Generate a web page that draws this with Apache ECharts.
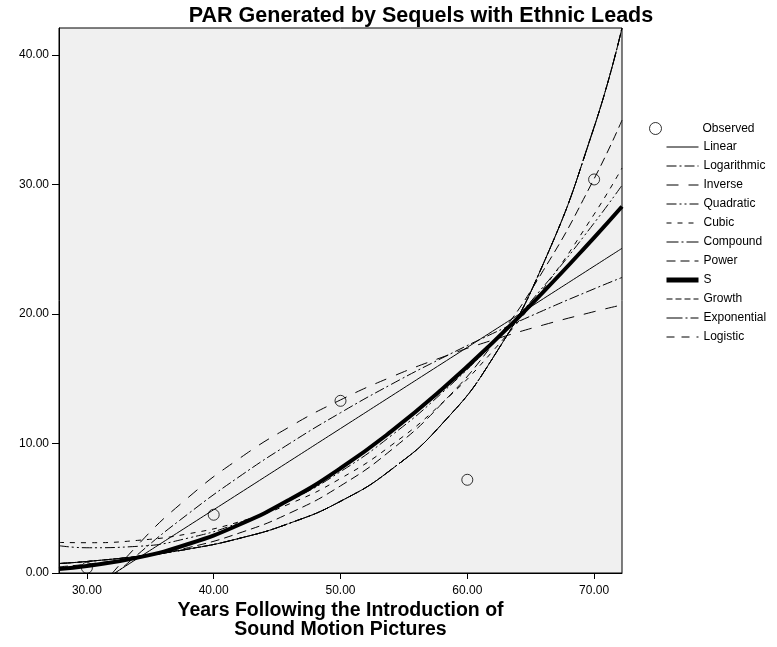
<!DOCTYPE html>
<html>
<head>
<meta charset="utf-8">
<script src="https://cdn.jsdelivr.net/npm/echarts@6/dist/echarts.min.js"></script>
<style>
html,body{margin:0;padding:0;background:#fff;}
#c{width:777px;height:647px;}
</style>
</head>
<body>
<div id="c"></div>
<script>
// Observed points
const obsX = [30, 40, 50, 60, 70];
const obsY = [0.4, 4.5, 13.3, 7.2, 30.4];
// x positions at which the fitted curves were read
const xs = [27.8, 30, 34, 38, 42, 46, 50, 54, 58, 62, 66, 70, 72.2];
const linear      = [-2.76, -1.38, 1.13, 3.64, 6.14, 8.65, 11.16, 13.67, 16.18, 18.68, 21.19, 23.70, 25.08];
const logarithmic = [-4.31, -2.14, 1.42, 4.58, 7.43, 10.01, 12.38, 14.57, 16.60, 18.50, 20.28, 21.95, 22.83];
const inverse     = [-5.68, -2.53, 2.15, 5.84, 8.83, 11.30, 13.37, 15.14, 16.66, 17.99, 19.16, 20.19, 20.71];
const quadratic   = [2.11, 1.95, 2.06, 2.70, 3.88, 5.59, 7.83, 10.61, 13.91, 17.75, 22.12, 27.03, 29.95];
const cubic       = [2.36, 2.34, 2.52, 3.03, 3.95, 5.35, 7.30, 9.86, 13.12, 17.13, 21.97, 27.71, 31.28];
const compound    = [0.73, 0.89, 1.29, 1.85, 2.67, 3.85, 5.54, 7.99, 11.51, 16.59, 23.90, 34.44, 42.10];
const power       = [0.48, 0.68, 1.19, 1.96, 3.08, 4.63, 6.73, 9.50, 13.09, 17.66, 23.38, 30.45, 34.98];
const sCurve      = [0.31, 0.54, 1.19, 2.24, 3.73, 5.68, 8.09, 10.94, 14.19, 17.80, 21.72, 25.91, 28.31];
const growth      = [0.73, 0.89, 1.29, 1.85, 2.67, 3.85, 5.54, 7.99, 11.51, 16.59, 23.90, 34.44, 42.10];
const exponential = [0.73, 0.89, 1.29, 1.85, 2.67, 3.85, 5.54, 7.99, 11.51, 16.59, 23.90, 34.44, 42.10];
const logistic    = [0.73, 0.89, 1.29, 1.85, 2.67, 3.85, 5.54, 7.99, 11.51, 16.59, 23.90, 34.44, 42.10];
const xTicks = [30, 40, 50, 60, 70];
const yTicks = [0, 10, 20, 30, 40];

const FONT = "'Liberation Sans', Arial, sans-serif";
const pair = (arr) => xs.map((x, i) => [x, arr[i]]);

const curves = [
  {name: 'Linear', data: linear, type: 'solid', width: 1},
  {name: 'Logarithmic', data: logarithmic, type: [10, 3, 2, 3], width: 1},
  {name: 'Inverse', data: inverse, type: [12, 10], width: 1},
  {name: 'Quadratic', data: quadratic, type: [10, 3, 2, 3, 2, 3], width: 1},
  {name: 'Cubic', data: cubic, type: [5, 6], width: 1},
  {name: 'Compound', data: compound, type: [12, 3, 2, 3], width: 1},
  {name: 'Power', data: power, type: [9, 5], width: 1},
  {name: 'S', data: sCurve, type: 'solid', width: 4},
  {name: 'Growth', data: growth, type: [6, 3], width: 1},
  {name: 'Exponential', data: exponential, type: [16, 3, 2, 3], width: 1},
  {name: 'Logistic', data: logistic, type: [8, 7], width: 1}
];

const series = curves.map(c => ({
  name: c.name,
  type: 'line',
  data: pair(c.data),
  smooth: true,
  symbol: 'none',
  clip: true,
  lineStyle: {color: '#000', width: c.width, type: c.type},
  itemStyle: {color: '#000'},
  emphasis: {disabled: true},
  z: 2
}));
series.push({
  name: 'Observed',
  type: 'scatter',
  data: obsX.map((x, i) => [x, obsY[i]]),
  symbol: 'circle',
  symbolSize: 11,
  itemStyle: {color: 'rgba(0,0,0,0)', borderColor: '#000', borderWidth: 1},
  z: 5
});

const chart = echarts.init(document.getElementById('c'));
chart.setOption({
  animation: false,
  backgroundColor: '#fff',
  title: {
    text: 'PAR Generated by Sequels with Ethnic Leads',
    left: 416, top: 0, textAlign: 'center',
    textStyle: {fontFamily: FONT, fontSize: 21.5, fontWeight: 'bold', color: '#000'}
  },
  legend: [
    {
      left: 649, top: 122, orient: 'vertical', padding: 0,
      itemWidth: 12, itemHeight: 12,
      data: [{name: 'Observed', icon: 'circle', itemStyle: {color: '#fff', borderColor: '#000', borderWidth: 1}}],
      textStyle: {fontFamily: FONT, fontSize: 12, color: '#000', padding: [0, 0, 0, 36]},
      selectedMode: false
    },
    {
      left: 664, top: 140, orient: 'vertical', padding: 0,
      itemWidth: 32, itemHeight: 12, itemGap: 5,
      data: curves.map(c => ({name: c.name, itemStyle: {opacity: 0}, lineStyle: {width: c.width === 4 ? 5 : 1}})),
      textStyle: {fontFamily: FONT, fontSize: 12, color: '#000', lineHeight: 14},
      selectedMode: false
    }
  ],
  grid: {
    left: 59, right: 155, top: 28, bottom: 74, containLabel: false,
    show: true, backgroundColor: '#f0f0f0', borderColor: '#000', borderWidth: 1
  },
  xAxis: {
    type: 'value', min: 27.8, max: 72.2,
    name: 'Years Following the Introduction of\nSound Motion Pictures',
    nameLocation: 'middle', nameGap: 28, nameMoveOverlap: false,
    nameTextStyle: {fontFamily: FONT, fontSize: 19.5, fontWeight: 'bold', color: '#000', lineHeight: 19},
    axisLine: {show: true, onZero: false, lineStyle: {color: '#000', width: 1}},
    axisTick: {show: true, length: 6, lineStyle: {color: '#000'}, customValues: xTicks},
    axisLabel: {customValues: xTicks, formatter: v => v.toFixed(2), fontFamily: FONT, fontSize: 12, color: '#000', margin: 12},
    splitLine: {show: false}
  },
  yAxis: {
    type: 'value', min: 0, max: 42.1,
    axisLine: {show: true, lineStyle: {color: '#000', width: 1}},
    axisTick: {show: true, length: 7, lineStyle: {color: '#000'}, customValues: yTicks},
    axisLabel: {customValues: yTicks, formatter: v => v.toFixed(2), fontFamily: FONT, fontSize: 12, color: '#000', margin: 10},
    splitLine: {show: false}
  },
  series: series
});
</script>
</body>
</html>
